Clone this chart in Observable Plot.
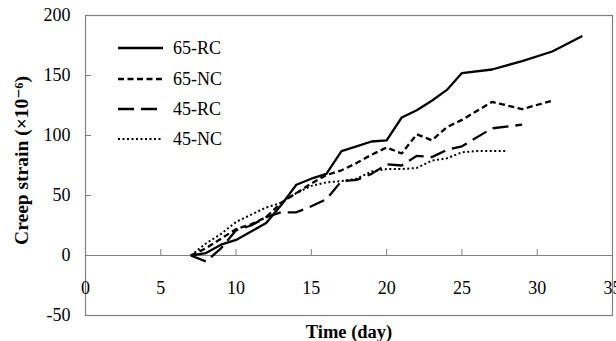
<!DOCTYPE html>
<html>
<head>
<meta charset="utf-8">
<script src="https://cdn.jsdelivr.net/npm/d3@7"></script>
<script src="https://cdn.jsdelivr.net/npm/@observablehq/plot@0.6"></script>
<style>
  html, body { margin: 0; padding: 0; background: #fff; }
  #wrap { position: relative; width: 616px; height: 341px; overflow: hidden; }
  #wrap svg text { font-family: "Liberation Serif", "Times New Roman", Times, "DejaVu Serif", serif; }
  #legend { position: absolute; left: 0; top: 0; font-family: "Liberation Serif", "Times New Roman", Times, "DejaVu Serif", serif; font-size: 18px; color: #000; }
  .item { position: absolute; left: 118px; height: 20px; display: flex; align-items: center; white-space: nowrap; }
  .item svg { display: block; margin-right: 10px; }
</style>
</head>
<body>
<div id="wrap"><div id="legend"></div></div>
<script>
// ---- data ----
const seriesNames = ["65-RC", "65-NC", "45-RC", "45-NC"];

const t65RC = [7,8,9,10,11,12,13,14,15,16,17,18,19,20,21,22,23,24,25,27,29,31,33];
const v65RC = [0,2,9,13,20,27,42,59,64,68,87,91,95,96,115,121,129,138,152,155,162,170,183];

const t65NC = [7,8,9,10,11,12,13,14,15,16,17,18,19,20,21,22,23,24,25,27,29,31];
const v65NC = [0,6,14,22,26,32,44,52,60,67,71,77,84,90,85,101,96,107,113,128,122,129];

const t45RC = [7,8,9,10,11,12,13,14,15,16,17,18,19,20,21,22,23,24,25,27,29];
const v45RC = [0,-5,6,21,25,32,36,36,41,47,62,63,68,76,75,83,82,88,91,106,109];

const t45NC = [7,8,9,10,11,12,13,14,15,16,17,18,19,20,21,22,23,24,25,26,27,28];
const v45NC = [0,10,18,28,34,40,44,52,58,61,62,64,70,72,72,73,79,81,86,87,87,87];

const xTicks = [0,5,10,15,20,25,30,35];
const yTicks = [-50,0,50,100,150,200];

const dashes = {"65-RC": null, "65-NC": "6,3.5", "45-RC": "16,7", "45-NC": "2,2.5"};
const widths = {"65-RC": 2.3, "65-NC": 2.3, "45-RC": 2.3, "45-NC": 2};

const toRows = (ts, vs) => ts.map((t, i) => ({t, v: vs[i]}));
const tables = {
  "65-RC": toRows(t65RC, v65RC),
  "65-NC": toRows(t65NC, v65NC),
  "45-RC": toRows(t45RC, v45RC),
  "45-NC": toRows(t45NC, v45NC)
};

const grey = "#808080";
const fmt = d => String(d);
const serif = "Liberation Serif, Times New Roman, serif";

const chart = Plot.plot({
  width: 616,
  height: 341,
  marginLeft: 85,
  marginRight: 4,
  marginTop: 15,
  marginBottom: 26,
  x: {domain: [0, 35]},
  y: {domain: [-50, 200]},
  style: {fontFamily: serif, fontSize: "18px", color: "#000", background: "#fff", overflow: "visible"},
  marks: [
    Plot.frame({stroke: grey, strokeWidth: 1.2}),
    Plot.ruleY([0], {stroke: grey, strokeWidth: 1.2}),
    Plot.axisY({ticks: yTicks, tickSize: 0, tickPadding: 15, tickFormat: fmt, label: null, fontFamily: serif}),
    Plot.axisY({ticks: yTicks, tickSize: 6, dx: 6, tickFormat: () => "", label: null, stroke: grey}),
    Plot.axisX({ticks: xTicks, tickSize: 6, dy: -66, tickFormat: () => "", label: null, stroke: grey}),
    Plot.axisX({ticks: xTicks, tickSize: 0, dy: -43, tickFormat: fmt, label: null, fontFamily: serif}),
    ...seriesNames.map(name => Plot.line(tables[name], {
      x: "t", y: "v", stroke: "#000", strokeWidth: widths[name],
      strokeDasharray: dashes[name], strokeLinejoin: "miter", strokeLinecap: "butt"
    })),
    Plot.text(["Creep strain (×10⁻⁶)"], {frameAnchor: "left", dx: -64, dy: -5, rotate: -90, textAnchor: "middle", lineAnchor: "middle", fontWeight: "bold", fontSize: 19.5, fontFamily: serif}),
    Plot.text(["Time (day)"], {frameAnchor: "bottom", dy: 17, textAnchor: "middle", lineAnchor: "middle", fontWeight: "bold", fontSize: 18.5, fontFamily: serif})
  ]
});

const wrap = document.getElementById("wrap");
wrap.insertBefore(chart, wrap.firstChild);

// legend (inside the plot area, top-left)
const legend = document.getElementById("legend");
const legendTops = [38, 69, 99, 129];
seriesNames.forEach((name, i) => {
  const item = document.createElement("div");
  item.className = "item";
  item.style.top = legendTops[i] + "px";
  const dash = dashes[name] ? ` stroke-dasharray="${dashes[name]}"` : "";
  item.innerHTML = `<svg width="45" height="6"><line x1="0" y1="3" x2="45" y2="3" stroke="#000" stroke-width="${widths[name]}"${dash}/></svg><span>${name}</span>`;
  legend.appendChild(item);
});
</script>
</body>
</html>
